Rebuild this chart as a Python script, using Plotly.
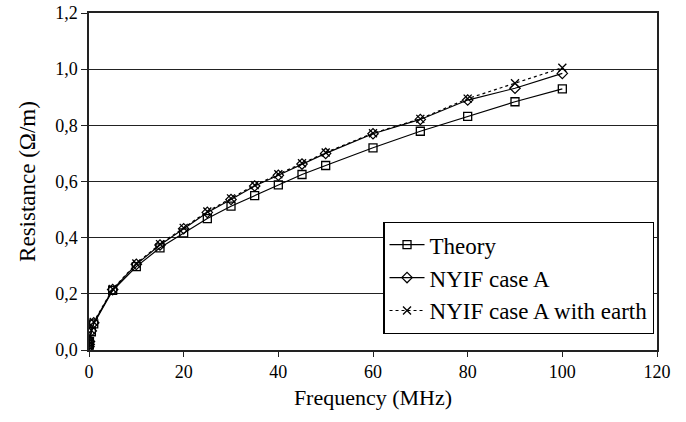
import plotly.graph_objects as go

freq = [0.01, 0.05, 0.1, 0.5, 1, 5, 10, 15, 20, 25, 30, 35, 40, 45, 50, 60, 70, 80, 90, 100]
theory = [0.012, 0.02, 0.03, 0.065, 0.093, 0.212, 0.297, 0.364, 0.417, 0.468, 0.512, 0.550,
          0.588, 0.625, 0.657, 0.720, 0.779, 0.832, 0.884, 0.930]
nyif_a = [0.012, 0.02, 0.03, 0.068, 0.097, 0.215, 0.305, 0.374, 0.432, 0.490, 0.536, 0.584,
          0.622, 0.662, 0.700, 0.770, 0.821, 0.890, 0.932, 0.985]
nyif_earth = [0.012, 0.02, 0.03, 0.070, 0.100, 0.217, 0.308, 0.377, 0.435, 0.493, 0.540, 0.587,
              0.626, 0.665, 0.703, 0.772, 0.823, 0.895, 0.950, 1.005]

series_names = ["Theory", "NYIF case A", "NYIF case A with earth"]
x_ticks = [0, 20, 40, 60, 80, 100, 120]
y_ticks = [0.0, 0.2, 0.4, 0.6, 0.8, 1.0, 1.2]

FONT = "Liberation Serif"

fig = go.Figure()
fig.add_trace(go.Scatter(
    x=freq, y=theory, name=series_names[0], mode="lines+markers",
    line=dict(color="black", width=1.2, dash="solid"),
    marker=dict(symbol="square-open", size=8, color="black", line=dict(width=1.3)),
))
fig.add_trace(go.Scatter(
    x=freq, y=nyif_a, name=series_names[1], mode="lines+markers",
    line=dict(color="black", width=1.2, dash="solid"),
    marker=dict(symbol="diamond-open", size=8, color="black", line=dict(width=1.2)),
))
fig.add_trace(go.Scatter(
    x=freq, y=nyif_earth, name=series_names[2], mode="lines+markers",
    line=dict(color="black", width=1.2, dash="dot"),
    marker=dict(symbol="x-thin-open", size=8, color="black", line=dict(width=1.3, color="black")),
))

fig.update_layout(
    width=686, height=422,
    margin=dict(l=89, r=29, t=13, b=72),
    paper_bgcolor="white", plot_bgcolor="white",
    separators=",.",
    font=dict(family=FONT, size=18, color="black"),
    showlegend=True,
    legend=dict(
        x=0.518, y=0.38, xanchor="left", yanchor="top",
        bgcolor="white", bordercolor="black", borderwidth=1.3,
        font=dict(family=FONT, size=23, color="black"),
        tracegroupgap=0, itemwidth=35,
    ),
    xaxis=dict(
        range=[0, 120], tickvals=x_ticks, ticktext=[str(v) for v in x_ticks],
        showgrid=False, zeroline=False, automargin=False, ticklabeloverflow="allow",
        showline=True, linecolor="#222", linewidth=1.5, mirror=True,
        ticks="outside", ticklen=5, tickcolor="#222",
        tickfont=dict(family=FONT, size=18),
        title=dict(text="Frequency (MHz)", font=dict(family=FONT, size=22), standoff=8),
    ),
    yaxis=dict(
        range=[0, 1.2], tickvals=y_ticks, tickformat=".1f",
        showgrid=True, gridcolor="#222", gridwidth=1.2, zeroline=False, automargin=False,
        ticklabeloverflow="allow",
        showline=True, linecolor="#222", linewidth=1.5, mirror=True,
        ticks="outside", ticklen=6, tickcolor="#222",
        tickfont=dict(family=FONT, size=18),
        title=dict(text="Resistance (Ω/m)", font=dict(family=FONT, size=23), standoff=13),
    ),
)

fig.write_html("out.html", config={"displayModeBar": False},
               post_script="document.body.style.margin='0';")
